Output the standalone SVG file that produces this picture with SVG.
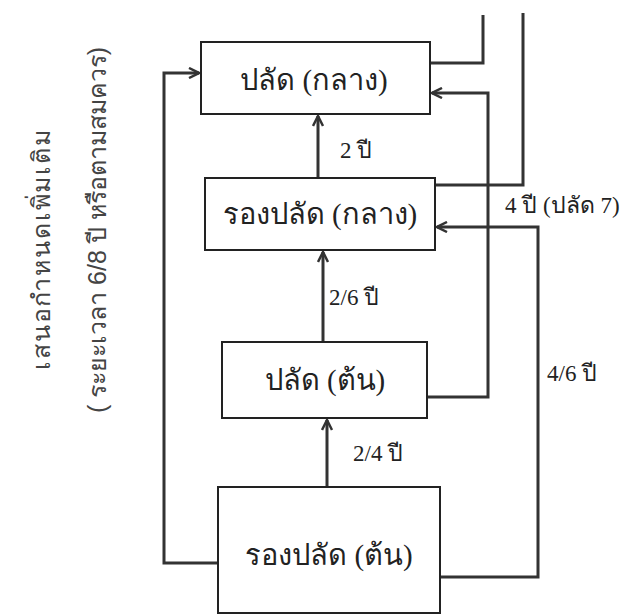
<svg xmlns="http://www.w3.org/2000/svg" width="634" height="616" viewBox="0 0 634 616">
<defs>
<style>
.box{fill:#fff;stroke:#222;stroke-width:2}
.lbl{font-family:"Liberation Serif","DejaVu Serif",serif;fill:#222;text-anchor:middle}
.t{font-size:29px}
.s{font-size:23px;text-anchor:start}
.side{font-family:"Liberation Sans","DejaVu Sans",sans-serif;fill:#444;font-size:25px;text-anchor:middle}
.c{fill:none;stroke:#333;stroke-width:3}
</style>
<marker id="ah" viewBox="0 0 12 12" refX="11" refY="6" markerWidth="12" markerHeight="12" markerUnits="userSpaceOnUse" orient="auto">
<path d="M1,1 L11,6 L1,11" fill="none" stroke="#333" stroke-width="2.5"/>
</marker>
</defs>
<rect width="634" height="616" fill="#fff"/>
<g id="connectors">
<path class="c" d="M318,178 V116" marker-end="url(#ah)"/>
<path class="c" d="M323,342 V252" marker-end="url(#ah)"/>
<path class="c" d="M327,487 V420" marker-end="url(#ah)"/>
<path class="c" d="M430,63 H483 V15"/>
<path class="c" d="M523,13 V185 H435"/>
<path class="c" d="M427,397 H488 V93 H432" marker-end="url(#ah)"/>
<path class="c" d="M441,577 H538 V227 H437" marker-end="url(#ah)"/>
<path class="c" d="M219,563 H164 V73 H199" marker-end="url(#ah)"/>
</g>
<g id="n1"><rect class="box" x="201" y="42" width="229" height="72"/><text class="lbl t" x="314" y="90">ปลัด (กลาง)</text></g>
<g id="n2"><rect class="box" x="205" y="178" width="230" height="72"/><text class="lbl t" x="320" y="224">รองปลัด (กลาง)</text></g>
<g id="n3"><rect class="box" x="222" y="342" width="205" height="76"/><text class="lbl t" x="325" y="390">ปลัด (ต้น)</text></g>
<g id="n4"><rect class="box" x="218" y="487" width="222" height="126"/><text class="lbl t" x="329" y="565">รองปลัด (ต้น)</text></g>
<g id="labels">
<text class="lbl s" x="340" y="158">2 ปี</text>
<text class="lbl s" x="329" y="305">2/6 ปี</text>
<text class="lbl s" x="353" y="461">2/4 ปี</text>
<text class="lbl s" x="505" y="213">4 ปี (ปลัด 7)</text>
<text class="lbl s" x="547" y="381">4/6 ปี</text>
<text class="side" transform="translate(50,250) rotate(-90)" textLength="240" lengthAdjust="spacing">เสนอกำหนดเพิ่มเติม</text>
<text class="side" transform="translate(106,230) rotate(-90)">( ระยะเวลา  6/8 ปี หรือตามสมควร)</text>
</g>
</svg>
